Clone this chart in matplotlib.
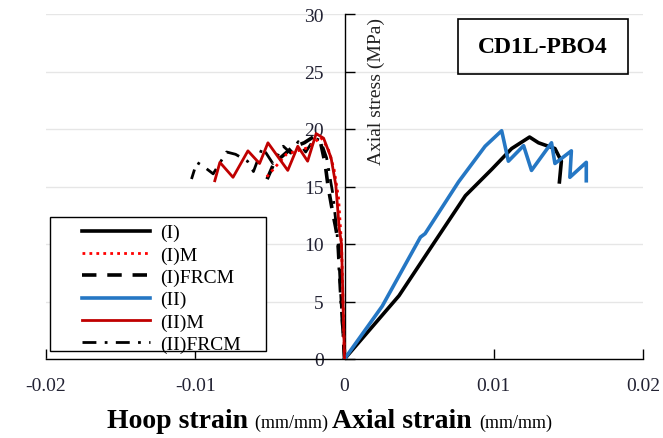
import matplotlib
matplotlib.use("Agg")
import matplotlib.pyplot as plt
from matplotlib.patches import Rectangle

plt.rcParams['font.family'] = ['Liberation Serif', 'DejaVu Serif']

# axial strain vs stress
ax_I_x = [0, 0.00365, 0.00587, 0.0081, 0.00987, 0.0112, 0.0124, 0.013, 0.0141, 0.01453, 0.0144]
ax_I_y = [0, 5.5, 9.85, 14.2, 16.5, 18.3, 19.3, 18.8, 18.3, 17.2, 15.4]
ax_II_x = [0, 0.00253, 0.00509, 0.0054, 0.00764, 0.00942, 0.01053, 0.01098, 0.012, 0.01253,
           0.01387, 0.0141, 0.0152, 0.0151, 0.0162, 0.0162]
ax_II_y = [0, 4.6, 10.6, 10.9, 15.4, 18.5, 19.85, 17.2, 18.55, 16.4,
           18.8, 17.0, 18.1, 15.8, 17.1, 15.5]

# hoop strain vs stress
hp_IM_x = [0, -0.0001, -0.0002, -0.0004, -0.0007, -0.0011, -0.0016, -0.0024, -0.0039, -0.0049, -0.0053]
hp_IM_y = [0, 5, 10, 14, 16.5, 18.3, 19.3, 18.4, 17.8, 16.3, 15.7]
hp_IF_x = [0, -0.0002, -0.0004, -0.0006, -0.0008, -0.0011, -0.0013, -0.0016, -0.0021, -0.0027,
           -0.0035, -0.0042, -0.0047, -0.0052]
hp_IF_y = [0, 5, 10, 11.5, 12.8, 15, 17, 18.8, 19.3, 18.8, 18.4, 17.6, 17.1, 15.6]
hp_IIM_x = [0, -0.0001, -0.0002, -0.00035, -0.00058, -0.0009, -0.0014, -0.0019, -0.00247, -0.00313,
            -0.0038, -0.00513, -0.00569, -0.00647, -0.00747, -0.00835, -0.00869]
hp_IIM_y = [0, 5, 10, 11.3, 15.1, 17.5, 19.2, 19.6, 17.2, 18.5,
            16.4, 18.8, 17.0, 18.1, 15.8, 17.1, 15.5]
hp_IIF_x = [0, -0.0003, -0.0005, -0.0008, -0.0012, -0.0016, -0.0020, -0.0026, -0.0031, -0.0036,
            -0.0041, -0.0048, -0.0055, -0.0061, -0.0065, -0.0073, -0.0079, -0.0088, -0.0095,
            -0.0099, -0.01025]
hp_IIF_y = [0, 6, 11, 14.5, 17.5, 19.0, 19.2, 18.0, 18.9, 17.9,
            18.5, 17.0, 18.4, 16.3, 17.2, 17.8, 18.0, 16.1, 16.8, 17.1, 15.65]

labels = ['(I)', '(I)M', '(I)FRCM', '(II)', '(II)M', '(II)FRCM']
xticks = [-0.02, -0.01, 0, 0.01, 0.02]
yticks = [0, 5, 10, 15, 20, 25, 30]

fig = plt.figure(figsize=(6.63, 4.39), dpi=100)
ax = fig.add_axes([46/663, 1-360/439, 597/663, 345/439])

ax.plot(ax_I_x, ax_I_y, color='black', lw=2.6, label=labels[0], zorder=3)
ax.plot(hp_IM_x, hp_IM_y, color='red', lw=2, ls=(0, (1, 1.5)), label=labels[1], zorder=4)
ax.plot(hp_IF_x, hp_IF_y, color='black', lw=2.6, ls=(0, (4, 3)), label=labels[2], zorder=3)
ax.plot(ax_II_x, ax_II_y, color='#2577c4', lw=2.6, label=labels[3], zorder=4)
ax.plot(hp_IIM_x, hp_IIM_y, color='#c00000', lw=2, label=labels[4], zorder=5)
ax.plot(hp_IIF_x, hp_IIF_y, color='black', lw=2, ls=(0, (5, 3, 1, 3)), label=labels[5], zorder=3)

ax.set_xlim(-0.02, 0.02)
ax.set_ylim(0, 30)
ax.set_xticks(xticks)
ax.set_xticklabels(['-0.02', '-0.01', '0', '0.01', '0.02'])
ax.set_yticks(yticks)

ax.spines['left'].set_position(('data', 0))
ax.spines['right'].set_visible(False)
ax.spines['top'].set_visible(False)
for s in ('left', 'bottom'):
    ax.spines[s].set_linewidth(1.0)
ax.tick_params(axis='both', direction='in', length=7, width=1, labelsize=14,
               labelcolor='#222233')
ax.tick_params(axis='x', pad=13)
ax.tick_params(axis='y', pad=15)
ax.yaxis.grid(True, color='#e6e6e6', lw=1)
ax.set_axisbelow(True)

ax.text(0.553, 0.777, 'Axial stress (MPa)', rotation=90, transform=ax.transAxes,
        ha='center', va='center', fontsize=14, color='#222222')

ax.add_patch(Rectangle((0.690, 0.826), 0.285, 0.159, transform=ax.transAxes,
                       fill=False, edgecolor='black', lw=1.2, clip_on=False))
ax.text(0.8325, 0.906, 'CD1L-PBO4', transform=ax.transAxes, ha='center', va='center',
        fontsize=17, fontweight='bold')

# legend frame drawn separately so the handles sit inset from the border
ax.add_patch(Rectangle((0.0067, 0.0232), 0.3618, 0.388, transform=ax.transAxes,
                       facecolor='white', edgecolor='black', lw=1.0, zorder=9))
leg = ax.legend(loc='upper left', bbox_to_anchor=(0.0603, 0.392), borderaxespad=0,
                fontsize=14, handlelength=3.5, handletextpad=0.5, labelspacing=0.24,
                frameon=False, borderpad=0)
leg.set_zorder(10)

# axis title in mixed sizes
base = 0.025
t1 = fig.text(107/663, base, 'Hoop strain ', fontsize=20, fontweight='bold')
t2 = fig.text(0, 0, '(mm/mm) ', fontsize=13)
t3 = fig.text(0, 0, 'Axial strain ', fontsize=20, fontweight='bold')
t4 = fig.text(0, 0, '(mm/mm)', fontsize=13)
fig.canvas.draw()
r = fig.canvas.get_renderer()
x = t1.get_window_extent(r).x1
for t in (t2, t3, t4):
    t.set_position((x / fig.bbox.width, base))
    x = t.get_window_extent(r).x1

fig.savefig('out.png', dpi=100)
